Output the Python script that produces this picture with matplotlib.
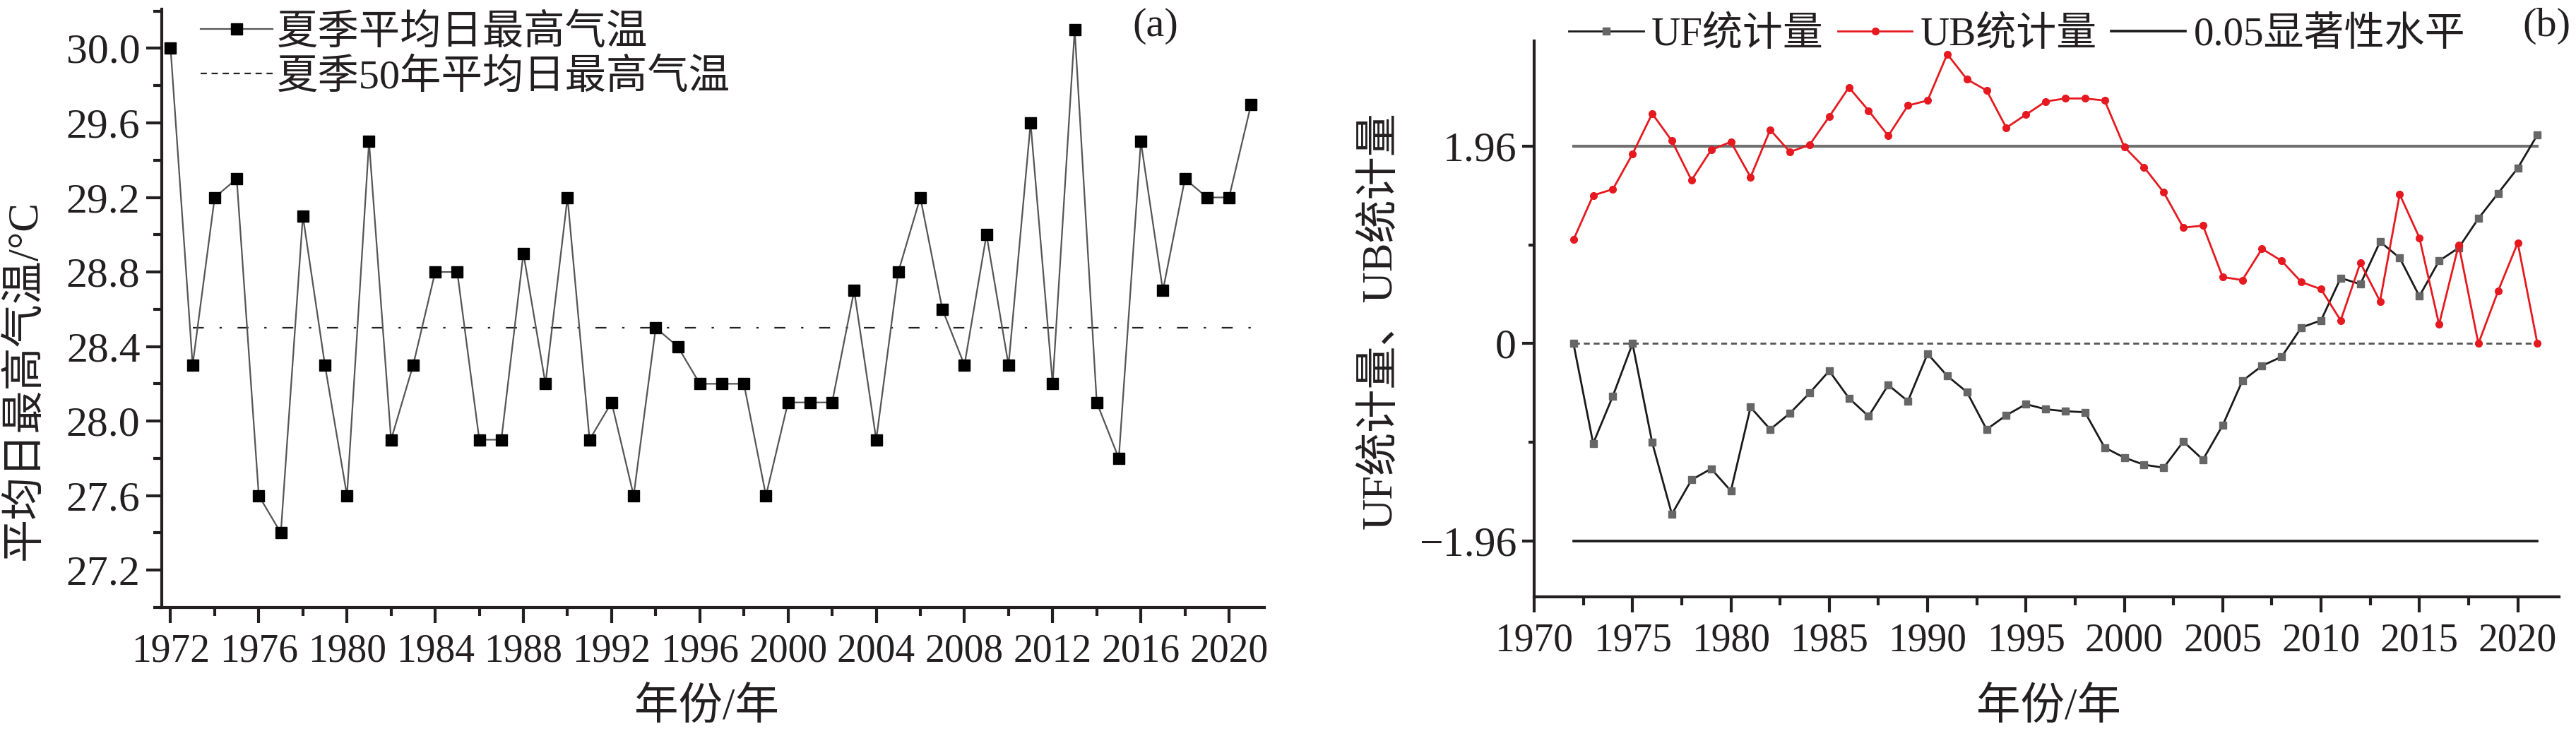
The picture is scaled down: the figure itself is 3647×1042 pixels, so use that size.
import matplotlib
matplotlib.use('Agg')
import matplotlib.pyplot as plt
from matplotlib.ticker import MultipleLocator, FixedLocator
from matplotlib.lines import Line2D

plt.rcParams['font.family'] = ['Liberation Serif', 'Noto Sans CJK SC', 'DejaVu Sans']
plt.rcParams['axes.unicode_minus'] = True

# 夏季平均日最高气温 (a)
years = list(range(1972, 2022))
tmax = [30.0, 28.3, 29.2, 29.3, 27.6, 27.4, 29.1, 28.3, 27.6, 29.5,
        27.9, 28.3, 28.8, 28.8, 27.9, 27.9, 28.9, 28.2, 29.2, 27.9,
        28.1, 27.6, 28.5, 28.4, 28.2, 28.2, 28.2, 27.6, 28.1, 28.1,
        28.1, 28.7, 27.9, 28.8, 29.2, 28.6, 28.3, 29.0, 28.3, 29.6,
        28.2, 30.1, 28.1, 27.8, 29.5, 28.7, 29.3, 29.2, 29.2, 29.7]
mean_tmax = 28.5

# M-K 突变检验 (b)
uf = [0.00, -0.99, -0.52, 0.00, -0.98, -1.69, -1.35, -1.24, -1.46, -0.63,
      -0.85, -0.69, -0.49, -0.27, -0.54, -0.72, -0.41, -0.57, -0.10, -0.32,
      -0.48, -0.85, -0.71, -0.60, -0.65, -0.67, -0.68, -1.03, -1.13, -1.20,
      -1.23, -0.97, -1.15, -0.81, -0.37, -0.22, -0.13, 0.16, 0.23, 0.65,
      0.59, 1.01, 0.85, 0.47, 0.82, 0.95, 1.24, 1.49, 1.74, 2.07]
ub = [1.03, 1.47, 1.53, 1.88, 2.28, 2.01, 1.62, 1.92, 2.00, 1.65,
      2.12, 1.90, 1.97, 2.25, 2.54, 2.31, 2.06, 2.36, 2.41, 2.87,
      2.62, 2.51, 2.14, 2.27, 2.40, 2.43, 2.43, 2.41, 1.95, 1.75,
      1.50, 1.15, 1.17, 0.66, 0.63, 0.94, 0.82, 0.61, 0.54, 0.23,
      0.80, 0.42, 1.48, 1.05, 0.19, 0.98, 0.00, 0.52, 1.00, 0.00]
sig = 1.96

txt = '#231f20'
W, H = 3648, 1042
fig = plt.figure(figsize=(W / 100, H / 100), dpi=100)


def box(l, t, r, b):
    return [l / W, 1 - b / H, (r - l) / W, (b - t) / H]


def style(ax, ysize):
    for s in ['top', 'right']:
        ax.spines[s].set_visible(False)
    for s in ['left', 'bottom']:
        ax.spines[s].set_linewidth(3.0)
        ax.spines[s].set_color(txt)
    ax.tick_params(which='major', direction='out', length=16, width=3, colors=txt)
    ax.tick_params(which='minor', direction='out', length=8.5, width=3, colors=txt)
    ax.tick_params(axis='x', labelsize=40, pad=10)
    ax.tick_params(axis='y', labelsize=ysize, pad=6)


# ---- (a) ----
ax1 = fig.add_axes(box(229, 13, 1790, 860))
ax1.plot(years, tmax, color='#555555', lw=1.6, marker='s', ms=11,
         mfc='black', mec='black', zorder=3)
ax1.plot([years[1], years[-1]], [mean_tmax, mean_tmax], color='#222222', lw=1.6,
         dashes=(7, 10, 1.5, 10), zorder=2)
ax1.set_xlim(1971.6, 2021.6)
ax1.set_ylim(27.0, 30.21)
ax1.xaxis.set_major_locator(MultipleLocator(4))
ax1.xaxis.set_minor_locator(MultipleLocator(2))
ax1.yaxis.set_major_locator(FixedLocator([27.2, 27.6, 28.0, 28.4, 28.8, 29.2, 29.6, 30.0]))
ax1.yaxis.set_minor_locator(FixedLocator([27.0, 27.4, 27.8, 28.2, 28.6, 29.0, 29.4, 29.8, 30.2]))
ax1.yaxis.set_major_formatter(lambda v, p: f'{v:.1f}')
style(ax1, 43)
ax1.set_xlabel('年份/年', fontsize=45, color=txt, va='center', ha='center')
ax1.xaxis.set_label_coords(0.494, -0.169)
ax1.set_ylabel('平均日最高气温/°C', fontsize=44, color=txt, va='center', ha='center')
ax1.yaxis.set_label_coords(-0.1236, 0.38)
ax1.text(0.901, 0.972, '(a)', transform=ax1.transAxes, fontsize=42, color=txt,
         ha='center', va='center')
h1 = [Line2D([], [], color='#555555', lw=1.6, marker='s', ms=11, mfc='black', mec='black'),
      Line2D([], [], color='#222222', lw=1.6, ls=(0, (4, 3)))]
ax1.legend(h1, ['夏季平均日最高气温', '夏季50年平均日最高气温'], loc='upper left',
           bbox_to_anchor=(0.035, 0.993), frameon=False, fontsize=42, borderpad=0,
           borderaxespad=0, handlelength=1.75, handletextpad=0.1, labelspacing=0.15,
           labelcolor=txt)

# ---- (b) ----
ax2 = fig.add_axes(box(2172, 58, 3623, 845))
ax2.plot([years[0], years[-1]], [sig, sig], color='#707070', lw=3.0, zorder=1)
ax2.plot([years[0], years[-1]], [-sig, -sig], color='#1a1a1a', lw=2.6, zorder=1)
ax2.plot([years[0], years[-1]], [0, 0], color='#555555', lw=2.0, ls=(0, (3, 2)), zorder=1)
ax2.plot(years, uf, color='#1a1a1a', lw=2.0, marker='s', ms=6.5,
         mfc='#666666', mec='#666666', zorder=3)
ax2.plot(years, ub, color='#e5191f', lw=2.0, marker='o', ms=7,
         mfc='#e5191f', mec='#e5191f', zorder=4)
ax2.set_xlim(1970, 2022.1)
ax2.set_ylim(-2.51, 3.0)
ax2.xaxis.set_major_locator(MultipleLocator(5))
ax2.xaxis.set_minor_locator(MultipleLocator(2.5))
ax2.yaxis.set_major_locator(FixedLocator([-sig, 0, sig]))
ax2.yaxis.set_minor_locator(FixedLocator([-sig / 2, sig / 2]))
ax2.yaxis.set_major_formatter(lambda v, p: '0' if abs(v) < 1e-9 else f'{v:.2f}'.replace('-', '\u2212'))
style(ax2, 43)
ax2.tick_params(axis='y', which='major', length=12)
ax2.tick_params(axis='y', which='minor', length=6)
ax2.set_xlabel('年份/年', fontsize=45, color=txt, va='center', ha='center')
ax2.xaxis.set_label_coords(0.502, -0.2008)
ax2.set_ylabel('UF统计量、UB统计量', fontsize=44, color=txt, va='center', ha='center')
ax2.yaxis.set_label_coords(-0.1496, 0.498)
ax2.text(0.988, 1.027, '(b)', transform=ax2.transAxes, fontsize=42, color=txt,
         ha='center', va='center')
h2 = [Line2D([], [], color='#1a1a1a', lw=2.0, marker='s', ms=6.5, mfc='#666666', mec='#666666'),
      Line2D([], [], color='#e5191f', lw=2.0, marker='o', ms=7, mfc='#e5191f', mec='#e5191f'),
      Line2D([], [], color='#1a1a1a', lw=2.6)]
ax2.legend(h2, ['UF统计量', 'UB统计量', '0.05显著性水平'], loc='upper left',
           bbox_to_anchor=(0.034, 1.045), frameon=False, fontsize=41, ncol=3, borderpad=0,
           borderaxespad=0, handlelength=1.85, handletextpad=0.2, columnspacing=0.35,
           labelcolor=txt)

fig.savefig('out.png', dpi=100, facecolor='white')
